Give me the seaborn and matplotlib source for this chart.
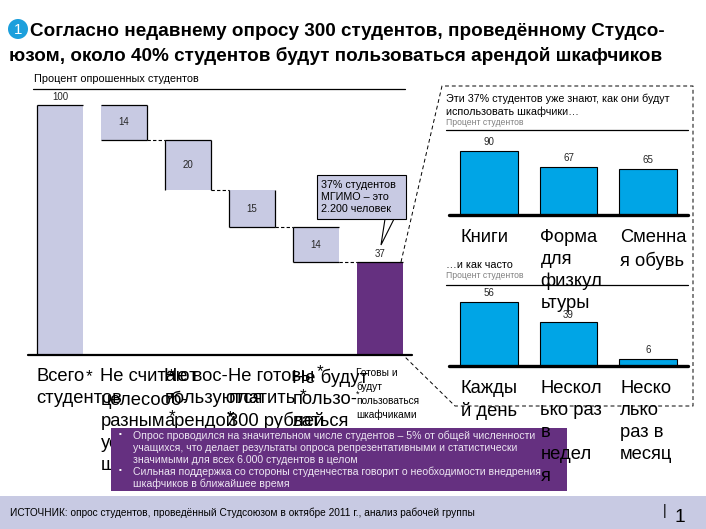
import matplotlib
matplotlib.use('Agg')
from matplotlib import pyplot as plt
from matplotlib.transforms import ScaledTranslation
from matplotlib.patches import Circle, Polygon, Rectangle
import seaborn as sns

# waterfall
steps = ['total', 'no_need', 'wont_use', 'wont_pay', 'wont_rent', 'ready']
step_vals = [100, 14, 20, 15, 14, 37]
step_tops = [100, 100, 86, 66, 51, 37]
step_labels = ['Всего\nстудентов', 'Не считают\nцелесооб-\nразным\nустановку\nшкафчиков',
               'Не вос-\nпользуются\nарендой', 'Не готовы\nплатить\n300 рублей',
               'Не будут\nпользо-\nваться', 'Готовы и\nбудут\nпользоваться\nшкафчиками']
# which sides of each bar still have a black outline in the scan
step_sides = ['lt', 'trb', 'ltr', 'lrb', 'ltb', 't']

# right side
items = ['Книги', 'Форма\nдля\nфизкул\nьтуры', 'Сменна\nя обувь']
items_vals = [90, 67, 65]
freq = ['Кажды\nй день', 'Нескол\nько раз\nв\nнедел\nя', 'Неско\nлько\nраз в\nмесяц']
freq_vals = [56, 39, 6]

title1 = 'Согласно недавнему опросу 300 студентов, проведённому Студсо-'
title2 = 'юзом, около 40% студентов будут пользоваться арендой шкафчиков'
notes = ['Опрос проводился на значительном числе студентов – 5% от общей численности',
         'учащихся, что делает результаты опроса репрезентативными и статистически',
         'значимыми для всех 6.000 студентов в целом',
         'Сильная поддержка со стороны студенчества говорит о необходимости внедрения',
         'шкафчиков в ближайшее время']
source = 'ИСТОЧНИК: опрос студентов, проведённый Студсоюзом в октябре 2011 г., анализ рабочей группы'

LILAC = '#C8CAE3'
PURPLE = '#653080'
BLUE = '#00A5E6'
W, H = 706, 529

sns.set_theme(style='white')
plt.rcParams['font.family'] = ['Liberation Sans', 'DejaVu Sans']

fig = plt.figure(figsize=(W / 100, H / 100), dpi=100)


def px_axes(x0, x1, ytop, ybot, z):
    a = fig.add_axes([x0 / W, 1 - ybot / H, (x1 - x0) / W, (ybot - ytop) / H], zorder=z)
    a.patch.set_alpha(0)
    sns.despine(ax=a, left=True, bottom=True)
    a.set_yticks([])
    a.set_ylabel('')
    return a


def left_labels(a, labels, shift_px, size_pt, spacing, pad):
    a.set_xticks(range(len(labels)), labels, ha='left', va='top', fontsize=size_pt,
                 linespacing=spacing, color='black')
    # tick_params resets the label transforms, so it has to come first
    a.tick_params(axis='x', length=0, pad=pad)
    off = ScaledTranslation(-shift_px / 100, 0, fig.dpi_scale_trans)
    for t in a.get_xticklabels():
        t.set_transform(t.get_transform() + off)
    a.set_xlabel('')


# waterfall
ax = px_axes(28, 412, 90, 354.5, 1)
bottoms = [t - v for t, v in zip(step_tops, step_vals)]
sns.barplot(x=steps, y=step_vals, bottom=bottoms, ax=ax, width=0.72, saturation=1,
            color=LILAC, linewidth=0)
ax.patches[-1].set_facecolor(PURPLE)
ax.set_ylim(0, 106)
ax.set_yticks([])
ax.set_xlim(-0.5, 5.5)
left_labels(ax, step_labels, 23.5, 13.2, 1.35, 10)
small = ax.get_xticklabels()[-1]
small.set_fontsize(7.3)
small.set_linespacing(1.42)
ax.bar_label(ax.containers[0], labels=['', '14', '20', '15', '14', ''], label_type='center', fontsize=7)
ax.bar_label(ax.containers[0], labels=['100', '', '', '', '', '37'], padding=2, fontsize=7)
for p, sides in zip(ax.patches, step_sides):
    x0, x1 = p.get_x(), p.get_x() + p.get_width()
    y0, y1 = p.get_y(), p.get_y() + p.get_height()
    if 'l' in sides:
        ax.vlines(x0, y0, y1, color='black', lw=0.9)
    if 'r' in sides:
        ax.vlines(x1, y0, y1, color='black', lw=0.9)
    if 't' in sides:
        ax.hlines(y1, x0, x1, color='black', lw=0.9)
    if 'b' in sides:
        ax.hlines(y0, x0, x1, color='black', lw=0.9)
for i in range(1, 5):
    ax.hlines(step_tops[i + 1], i + 0.36, i + 0.64, color='black', lw=0.8, ls=(0, (3, 2)))
ax.axhline(0, color='black', lw=1.6, clip_on=False, zorder=5)

# overlay in pixels, for the notes, callout and frames
ov = fig.add_axes([0, 0, 1, 1], zorder=2)
ov.set_xlim(0, W)
ov.set_ylim(H, 0)
ov.axis('off')
ov.patch.set_alpha(0)


def txt(x, y, s, px, **kw):
    kw.setdefault('va', 'center')
    kw.setdefault('color', 'black')
    ov.text(x, y, s, fontsize=px * 0.72, **kw)


ov.add_patch(Rectangle((0, 496), W, 33, fc=LILAC, ec='none'))
ov.add_patch(Rectangle((111, 428), 456, 63, fc=PURPLE, ec='none'))
for y, s in zip([436, 448, 460, 472, 484], notes):
    txt(133, y, s, 10.5, color='#EDE6F2')
for y in [434, 470]:
    txt(120, y, '▪', 8, color='white', ha='center')
txt(10, 513, source, 10.1)
txt(665, 511, '|', 14, ha='center')
txt(680, 517, '1', 19, ha='center')

# title
ov.add_patch(Circle((18, 29), 10, fc='#1C9FDC', ec='none'))
txt(18, 29.5, '1', 15, color='white', ha='center')
txt(30, 31.5, title1, 18.9, fontweight='bold')
txt(9, 55.5, title2, 18.9, fontweight='bold')

# left header
txt(34, 79, 'Процент опрошенных студентов', 10.9)
ov.plot([33, 405], [88.5, 88.5], color='black', lw=0.9)

# stray asterisks of the original labels
for x, y in [(89, 377), (171, 376), (171, 401), (172, 417), (230, 418), (303, 396), (320, 372)]:
    txt(x, y, '*', 17, ha='center')
txt(358, 394, '*', 9, ha='center')

# callout
ov.add_patch(Polygon([(385, 219), (381, 245), (394, 219)], closed=True, fc='white', ec='black', lw=0.8))
ov.add_patch(Rectangle((317, 175), 89, 44, fc=LILAC, ec='black', lw=0.8))
for y, s in zip([185, 197.5, 209.5], ['37% студентов', 'МГИМО – это', '2.200 человек']):
    txt(321, y, s, 10.8)

# dashed frame round the right side
ov.plot([401, 442, 693, 693, 455, 403], [262, 86, 86, 406, 406, 355], color='black', lw=0.7, ls=(0, (4, 3)))

txt(446, 99, 'Эти 37% студентов уже знают, как они будут', 10.75)
txt(446, 112, 'использовать шкафчики…', 10.75)
txt(446, 122.5, 'Процент студентов', 8.6, color='#808080')
ov.plot([446, 688], [130, 130], color='black', lw=0.9)
txt(446, 264.5, '…и как часто', 10.75)
txt(446, 275.5, 'Процент студентов', 8.6, color='#808080')
ov.plot([446, 688], [285, 285], color='black', lw=0.9)

# right charts
ax2 = px_axes(449, 688, 130, 215, 3)
sns.barplot(x=items, y=items_vals, ax=ax2, width=0.72, saturation=1, color=BLUE,
            edgecolor='black', linewidth=0.8)
ax2.set_ylim(0, 85 / 0.71)
ax2.set_yticks([])
left_labels(ax2, items, 28, 13.2, 1.38, 10)
ax2.bar_label(ax2.containers[0], padding=3, fontsize=7)
ax2.axhline(0, color='black', lw=2.4, clip_on=False, zorder=5)

ax3 = px_axes(449, 688, 285, 366, 3)
sns.barplot(x=freq, y=freq_vals, ax=ax3, width=0.72, saturation=1, color=BLUE,
            edgecolor='black', linewidth=0.8)
ax3.set_ylim(0, 81 / 1.14)
ax3.set_yticks([])
left_labels(ax3, freq, 28, 13.2, 1.38, 10)
ax3.bar_label(ax3.containers[0], labels=['56', '', '6'], padding=3, fontsize=7)
ax3.bar_label(ax3.containers[0], labels=['', '39', ''], padding=1, fontsize=7)
ax3.axhline(0, color='black', lw=2.4, clip_on=False, zorder=5)

fig.savefig('out.png', dpi=100)
